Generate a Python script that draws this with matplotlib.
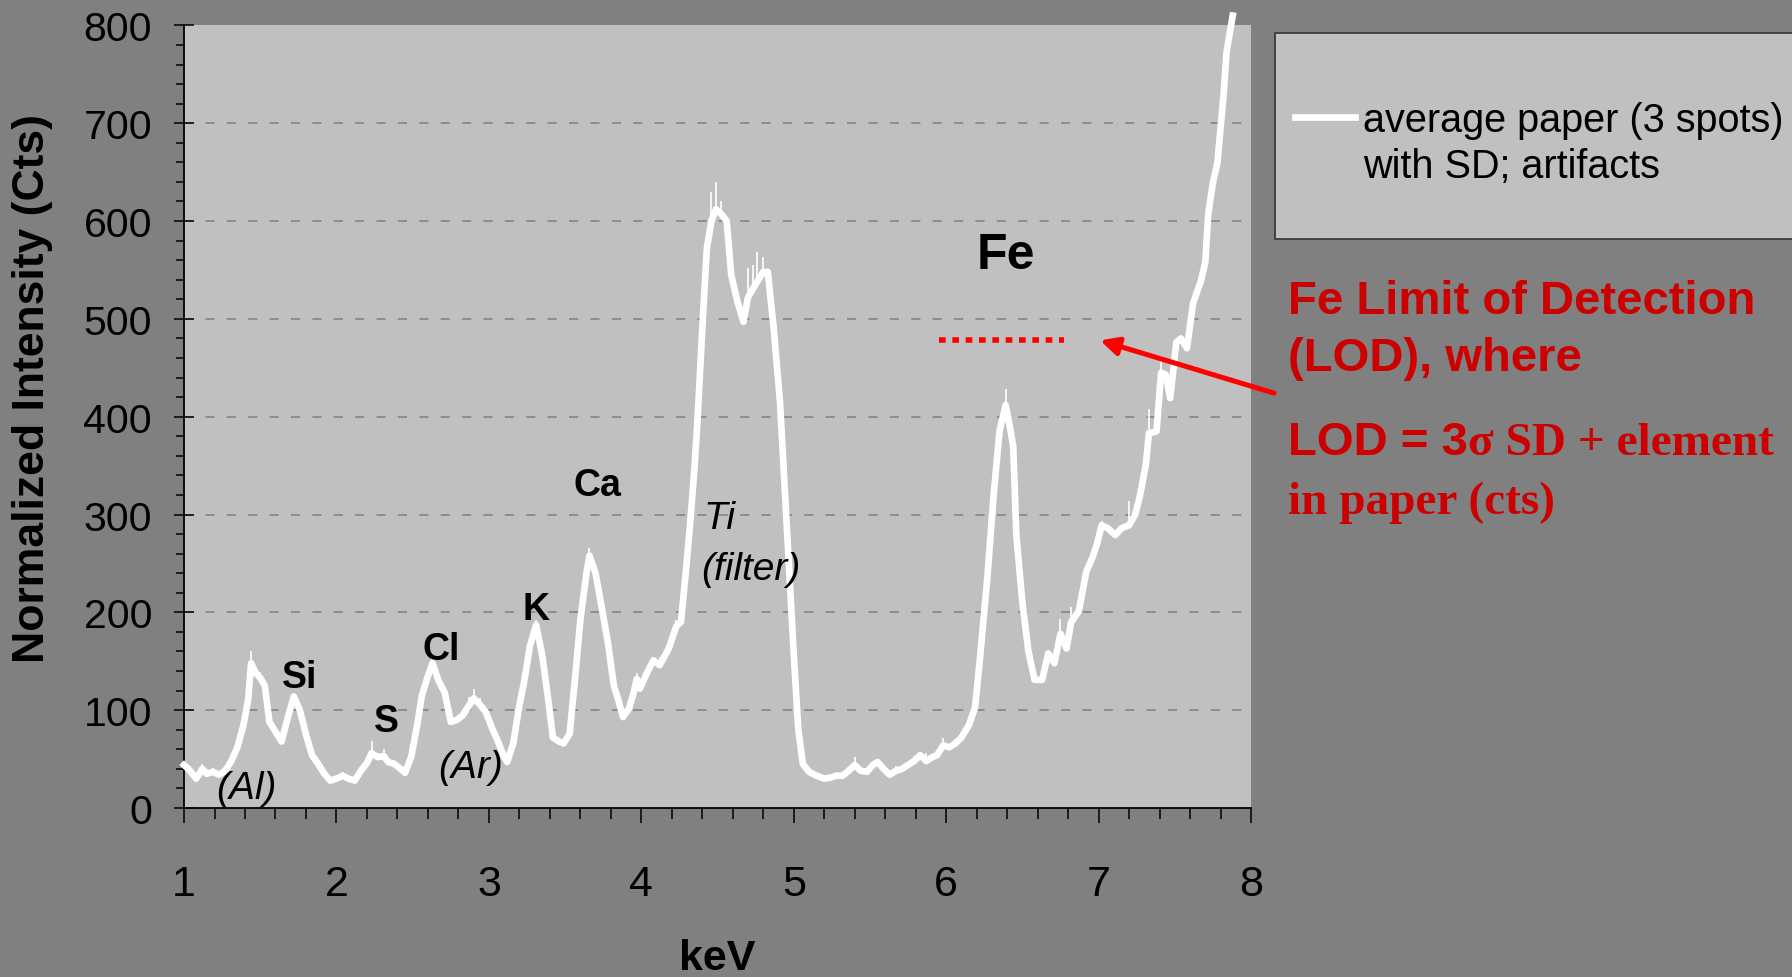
import matplotlib.pyplot as plt
from matplotlib.lines import Line2D
from matplotlib.patches import Rectangle
from matplotlib.ticker import MultipleLocator

plt.rcParams["font.family"] = ["Liberation Sans", "DejaVu Sans"]

# -------------------------------
# Spectrum: average paper (3 spots), with SD
# -------------------------------
kev = [
    1.00, 1.04, 1.08, 1.12, 1.15, 1.19, 1.23, 1.27, 1.31, 1.35,
    1.39, 1.42, 1.44, 1.47, 1.50, 1.53, 1.56, 1.60, 1.64, 1.68,
    1.72, 1.76, 1.80, 1.84, 1.88, 1.92, 1.96, 2.00, 2.04, 2.08,
    2.12, 2.16, 2.20, 2.23, 2.27, 2.31, 2.34, 2.38, 2.42, 2.45,
    2.49, 2.53, 2.56, 2.60, 2.63, 2.67, 2.71, 2.75, 2.79, 2.83,
    2.87, 2.90, 2.94, 2.98, 3.02, 3.06, 3.10, 3.12, 3.16, 3.20,
    3.23, 3.27, 3.31, 3.35, 3.39, 3.42, 3.46, 3.49, 3.53, 3.57,
    3.60, 3.64, 3.66, 3.70, 3.74, 3.78, 3.82, 3.85, 3.88, 3.92,
    3.95, 3.97, 3.99, 4.04, 4.08, 4.12, 4.18, 4.23, 4.26, 4.29,
    4.32, 4.35, 4.37, 4.40, 4.43, 4.46, 4.49, 4.52, 4.56, 4.59,
    4.63, 4.67, 4.70, 4.73, 4.76, 4.80, 4.83, 4.87, 4.91, 4.95,
    5.00, 5.03, 5.06, 5.10, 5.15, 5.20, 5.24, 5.28, 5.32, 5.36,
    5.40, 5.44, 5.48, 5.52, 5.55, 5.59, 5.63, 5.67, 5.71, 5.75,
    5.79, 5.83, 5.87, 5.91, 5.94, 5.98, 6.02, 6.06, 6.10, 6.15,
    6.19, 6.22, 6.27, 6.31, 6.35, 6.39, 6.42, 6.44, 6.46, 6.50,
    6.54, 6.58, 6.63, 6.67, 6.71, 6.75, 6.79, 6.82, 6.87, 6.92,
    6.96, 6.99, 7.02, 7.06, 7.11, 7.15, 7.20, 7.24, 7.27, 7.31,
    7.33, 7.38, 7.41, 7.44, 7.47, 7.51, 7.54, 7.58, 7.62, 7.67,
    7.70, 7.72, 7.75, 7.78, 7.82, 7.84, 7.88,
]

counts = [
    44, 38, 30, 40, 35, 37, 34, 38, 48, 62,
    85, 110, 148, 138, 133, 125, 88, 78, 68, 92,
    114, 100, 75, 54, 45, 35, 28, 30, 33, 30,
    28, 38, 46, 56, 52, 53, 47, 45, 40, 36,
    52, 85, 115, 135, 148, 130, 118, 88, 90, 95,
    105, 112, 106, 98, 82, 68, 52, 47, 66, 105,
    128, 166, 187, 156, 110, 72, 68, 66, 76, 140,
    192, 240, 258, 240, 205, 170, 125, 110, 93, 102,
    118, 132, 122, 139, 151, 146, 163, 186, 190, 238,
    290, 350, 400, 490, 572, 600, 612, 608, 600, 545,
    518, 497, 522, 530, 538, 548, 548, 488, 415, 300,
    158, 80, 45, 37, 33, 30, 31, 33, 33, 38,
    44, 38, 37, 44, 47, 40, 34, 38, 40, 44,
    48, 54, 48, 52, 54, 64, 62, 66, 72, 85,
    103, 150, 235, 317, 385, 412, 388, 370, 280, 210,
    160, 131, 131, 158, 148, 178, 163, 190, 201, 242,
    256, 270, 289, 286, 279, 286, 289, 300, 318, 351,
    383, 385, 445, 443, 419, 476, 480, 470, 516, 538,
    558, 608, 639, 660, 729, 773, 810,
]

sd = [
    6, 5, 0, 5, 0, 4, 0, 4, 0, 0,
    0, 0, 12, 5, 6, 0, 0, 0, 0, 0,
    0, 0, 0, 0, 0, 0, 0, 0, 4, 0,
    0, 4, 5, 12, 4, 7, 0, 4, 0, 0,
    0, 0, 0, 0, 6, 5, 4, 0, 0, 6,
    8, 10, 6, 0, 0, 0, 0, 0, 0, 0,
    0, 0, 5, 0, 0, 0, 4, 0, 0, 0,
    0, 0, 8, 0, 0, 0, 5, 0, 0, 0,
    0, 6, 0, 0, 0, 8, 8, 6, 0, 0,
    0, 0, 0, 0, 0, 30, 28, 12, 0, 0,
    0, 0, 30, 25, 30, 15, 0, 0, 0, 0,
    0, 0, 0, 0, 0, 0, 0, 4, 4, 0,
    8, 0, 0, 0, 0, 0, 0, 5, 0, 0,
    5, 0, 8, 0, 4, 8, 0, 5, 0, 0,
    0, 0, 0, 0, 0, 16, 0, 0, 0, 0,
    0, 0, 0, 0, 0, 15, 0, 15, 0, 0,
    0, 0, 4, 0, 0, 0, 25, 0, 0, 0,
    25, 0, 15, 0, 0, 0, 0, 0, 0, 0,
    10, 0, 0, 0, 0, 0, 0,
]

# element lines (bold) and artifacts (italic)
elements = ["Si", "S", "Cl", "K", "Ca", "Fe"]
element_kev = [1.76, 2.33, 2.69, 3.31, 3.71, 6.39]
element_cts = [134, 89, 163, 203, 330, 565]

artifacts = ["(Al)", "(Ar)"]
artifact_kev = [1.41, 2.88]
artifact_cts = [20, 42]

# Fe limit of detection
lod_level = 478
lod_range = [5.95, 6.77]

grid_levels = [100, 200, 300, 400, 500, 600, 700]

# -------------------------------
# Figure
# -------------------------------
fig = plt.figure(figsize=(17.92, 9.78), dpi=100, facecolor="#808080")
ax = fig.add_axes([0.1027, 0.1728, 0.5954, 0.8002])
ax.set_facecolor("#C0C0C0")

for g in grid_levels:
    ax.axhline(g, color="#808080", lw=1.1, linestyle=(0, (6, 8)), zorder=1)

ax.errorbar(kev, counts, yerr=[[0] * len(sd), sd], fmt="none",
            ecolor="white", elinewidth=1.2, capsize=0, zorder=2)
spec_line, = ax.plot(kev, counts, color="white", lw=4.8, zorder=3, clip_on=False)

ax.set_xlim(1, 8)
ax.set_ylim(0, 800)

ax.xaxis.set_major_locator(MultipleLocator(1))
ax.xaxis.set_minor_locator(MultipleLocator(0.2))
ax.yaxis.set_major_locator(MultipleLocator(100))
ax.yaxis.set_minor_locator(MultipleLocator(20))

ax.tick_params(axis="x", which="major", direction="out", length=11, width=1.1,
               pad=29, labelsize=31)
ax.tick_params(axis="x", which="minor", direction="out", length=8, width=1.1)
ax.tick_params(axis="y", which="major", direction="inout", length=14, width=1.1,
               pad=16, labelsize=29.5)
ax.tick_params(axis="y", which="minor", direction="out", length=6, width=1.1)

for side in ["top", "right"]:
    ax.spines[side].set_visible(False)
for side in ["left", "bottom"]:
    ax.spines[side].set_linewidth(1.3)
    ax.spines[side].set_color("black")

ax.set_ylabel("Normalized Intensity (Cts)", fontsize=32, fontweight="bold")
ax.yaxis.set_label_coords(-0.123, 0.537)
ax.set_xlabel("keV", fontsize=31, fontweight="bold")
ax.xaxis.set_label_coords(0.5, -0.166)

# peak labels
for name, x, y in zip(elements, element_kev, element_cts):
    size = 36 if name == "Fe" else 27
    ax.text(x, y, name, fontsize=size, fontweight="bold", ha="center", va="center")

for name, x, y in zip(artifacts, artifact_kev, artifact_cts):
    ax.text(x, y, name, fontsize=28, style="italic", ha="center", va="center")

ax.text(4.41, 296, "Ti", fontsize=28, style="italic", ha="left", va="center")
ax.text(4.395, 244, "(filter)", fontsize=28, style="italic", ha="left", va="center")

# LOD marker and arrow
ax.plot(lod_range, [lod_level, lod_level], color="#FF0000", lw=4,
        linestyle=(0, (1.2, 1.2)), dash_capstyle="butt", zorder=4)
ax.annotate("", xy=(7.01, lod_level), xycoords="data",
            xytext=(0.711, 0.597), textcoords="figure fraction",
            arrowprops=dict(arrowstyle="-|>", color="#FF0000", lw=3.6,
                            mutation_scale=27, shrinkA=0, shrinkB=0),
            annotation_clip=False, zorder=5)

red = "#CC0000"
fig.text(0.7188, 0.662, "Fe Limit of Detection\n(LOD), where", color=red,
         fontsize=34, fontweight="bold", ha="left", va="center", linespacing=1.36)
t1 = fig.text(0.7188, 0.547, "LOD = 3", color=red, fontsize=34,
              fontweight="bold", ha="left", va="center")
ax.annotate("σ SD + element", xy=(1, 0), xycoords=t1, ha="left", va="bottom",
            color=red, fontsize=34, fontweight="bold",
            family=["Liberation Serif", "DejaVu Serif"], annotation_clip=False)
fig.text(0.7188, 0.486, "in paper (cts)", color=red, fontsize=34,
         fontweight="bold", family=["Liberation Serif", "DejaVu Serif"],
         ha="left", va="center")

# legend box
fig.add_artist(Rectangle((0.7115, 0.7546), 0.31, 0.2106, transform=fig.transFigure,
                         facecolor="#C0C0C0", edgecolor="#333333", lw=1.2))
fig.legend(handles=[spec_line, Line2D([], [], color="none")],
           labels=["average paper (3 spots)", "with SD; artifacts"],
           loc="upper left", bbox_to_anchor=(0.7227, 0.896), frameon=False,
           fontsize=28.5, handlelength=1.52, handletextpad=0.2,
           labelspacing=0.22, borderpad=0, borderaxespad=0)

fig.savefig("out.png", dpi=100, facecolor=fig.get_facecolor())
